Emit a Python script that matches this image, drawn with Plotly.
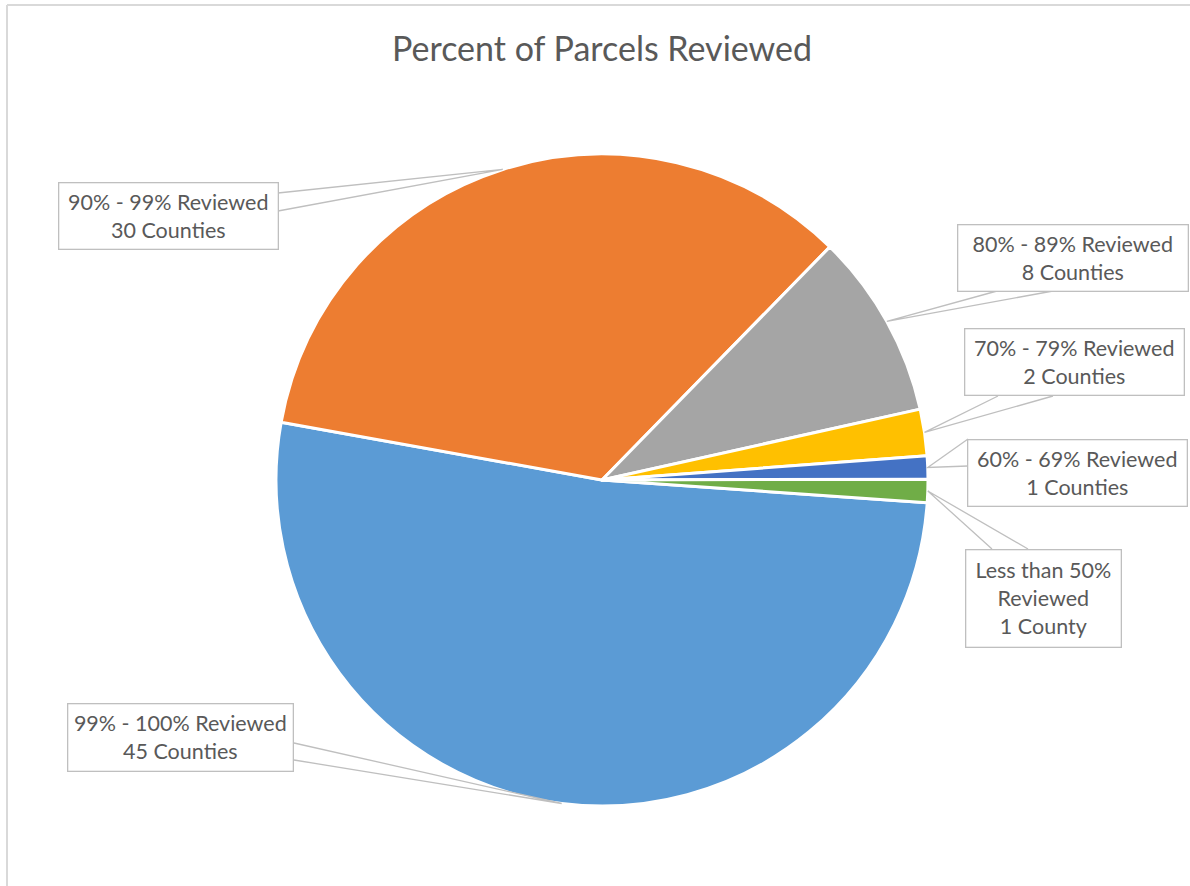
import math
import plotly.graph_objects as go

# ---- data ----
categories = ["99% - 100% Reviewed", "90% - 99% Reviewed", "80% - 89% Reviewed",
              "70% - 79% Reviewed", "60% - 69% Reviewed", "Less than 50%<br>Reviewed"]
counties = [45, 30, 8, 2, 1, 1]
units = ["Counties", "Counties", "Counties", "Counties", "Counties", "County"]
colors = ["#5B9BD5", "#ED7D31", "#A5A5A5", "#FFC000", "#4472C4", "#70AD47"]
title = "Percent of Parcels Reviewed"

# ---- layout constants (pixels) ----
W, H = 1190, 886
CX, CY, R = 602, 480, 326
ROTATION = 94  # degrees clockwise from 12 o'clock where first slice starts

# label boxes: left, top, right, bottom
boxes = [(68, 703, 294, 771), (58, 183, 278, 250), (957, 224, 1188, 291),
         (964, 329, 1184, 396), (967, 439, 1187, 506), (965, 549, 1121, 647)]
# leader wedge base points on each box
bases = [((294, 743), (294, 760)), ((278, 193), (278, 211)), ((997, 291), (1053, 291)),
         ((998, 396), (1053, 396)), ((968, 439), (968, 466)), ((992, 549), (1028, 549))]

FONT = "Lato, Calibri, Open Sans, sans-serif"
TXT = "#595959"
LEADER = "#BFBFBF"


def px(x):
    return x / W


def py(y):
    return 1 - y / H


fig = go.Figure(go.Pie(
    labels=[c.replace("<br>", " ") for c in categories],
    values=counties,
    sort=False,
    direction="clockwise",
    rotation=ROTATION,
    marker=dict(colors=colors, line=dict(color="white", width=3)),
    textinfo="none",
    showlegend=False,
    domain=dict(x=[px(CX - R), px(CX + R)], y=[py(CY + R), py(CY - R)]),
))

shapes = []
annotations = []
total = sum(counties)
start = ROTATION
for i, v in enumerate(counties):
    span = 360.0 * v / total
    mid = math.radians(start + span / 2)
    start += span
    tx = CX + R * math.sin(mid)
    ty = CY - R * math.cos(mid)
    (x1, y1), (x2, y2) = bases[i]
    shapes.append(dict(
        type="path", xref="paper", yref="paper",
        path=f"M {px(x1)},{py(y1)} L {px(tx)},{py(ty)} L {px(x2)},{py(y2)}",
        line=dict(color=LEADER, width=1.3), fillcolor="rgba(0,0,0,0)", layer="above"))
    l, t, r, b = boxes[i]
    annotations.append(dict(
        x=px((l + r) / 2), y=py((t + b) / 2), xref="paper", yref="paper",
        xanchor="center", yanchor="middle",
        text=f"{categories[i]}<br>{v} {units[i]}",
        showarrow=False, align="center", valign="middle",
        width=r - l - 2, height=b - t - 2,
        bgcolor="white", bordercolor=LEADER, borderwidth=1.3, borderpad=0,
        font=dict(family=FONT, size=21.5, color=TXT)))

# chart area border (top and left edges visible)
shapes.append(dict(type="line", xref="paper", yref="paper",
                   x0=px(7), y0=py(5), x1=1, y1=py(5),
                   line=dict(color="#D9D9D9", width=2)))
shapes.append(dict(type="line", xref="paper", yref="paper",
                   x0=px(7), y0=py(5), x1=px(7), y1=0,
                   line=dict(color="#D9D9D9", width=2)))

annotations.append(dict(
    x=px(602), y=py(48), xref="paper", yref="paper", xanchor="center", yanchor="middle",
    text=title, showarrow=False, font=dict(family=FONT, size=34, color=TXT)))

fig.update_layout(
    width=W, height=H,
    margin=dict(l=0, r=0, t=0, b=0),
    paper_bgcolor="white", plot_bgcolor="white",
    shapes=shapes, annotations=annotations,
)

fig.write_html("out.html", config={"displayModeBar": False},
               post_script="document.body.style.margin='0';")
